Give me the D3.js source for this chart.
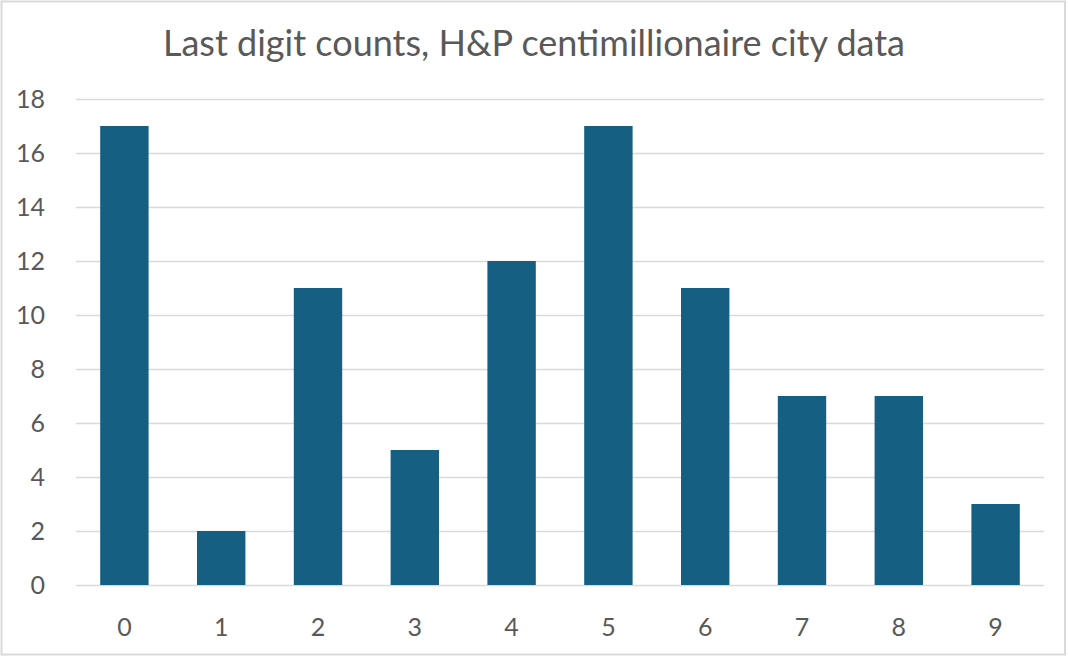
<!DOCTYPE html>
<html>
<meta charset="UTF-8">
<head>
    <script src="https://d3js.org/d3.v7.min.js"></script>
    <style>
        body { margin: 0; background: white; }
        text { font-family: Lato, sans-serif; fill: #595959; }
    </style>
</head>
<body>
<script>
    // last digit and how many cities ended in it
    let digits = ["0", "1", "2", "3", "4", "5", "6", "7", "8", "9"];
    let counts = [17, 2, 11, 5, 12, 17, 11, 7, 7, 3];
    let yTicks = [0, 2, 4, 6, 8, 10, 12, 14, 16, 18];
    let title = "Last digit counts, H&P centimillionaire city data";

    let width = 1068, height = 658;
    let margin = {left: 76, right: 24, top: 99, bottom: 73};

    let svg = d3.select("body").append("svg")
        .attr("width", width)
        .attr("height", height);

    // chart frame
    svg.append("rect")
        .attr("x", 1.5).attr("y", 1.5)
        .attr("width", width - 4.5).attr("height", height - 5)
        .attr("fill", "white")
        .attr("stroke", "#d9d9d9")
        .attr("stroke-width", 2);

    let x = d3.scaleBand()
        .domain(digits)
        .range([margin.left, width - margin.right])
        .paddingInner(0.5)
        .paddingOuter(0.25);

    let y = d3.scaleLinear()
        .domain([0, 18])
        .range([height - margin.bottom, margin.top]);

    // gridlines
    svg.append("g")
        .selectAll("line")
        .data(yTicks)
        .join("line")
        .attr("x1", margin.left)
        .attr("x2", width - margin.right)
        .attr("y1", d => Math.round(y(d)) + 0.5)
        .attr("y2", d => Math.round(y(d)) + 0.5)
        .attr("stroke", "#d9d9d9")
        .attr("stroke-width", 1.5);

    // y labels
    svg.append("g")
        .selectAll("text")
        .data(yTicks)
        .join("text")
        .attr("x", 45)
        .attr("y", d => y(d))
        .attr("dy", "0.36em")
        .attr("text-anchor", "end")
        .attr("font-size", "25px")
        .text(d => d);

    // bars
    svg.append("g")
        .selectAll("rect")
        .data(counts)
        .join("rect")
        .attr("x", (d, i) => x(digits[i]))
        .attr("y", d => y(d))
        .attr("width", x.bandwidth())
        .attr("height", d => y(0) - y(d))
        .attr("fill", "#156082");

    // x labels
    svg.append("g")
        .selectAll("text")
        .data(digits)
        .join("text")
        .attr("x", d => x(d) + x.bandwidth() / 2)
        .attr("y", 627)
        .attr("dy", "0.36em")
        .attr("text-anchor", "middle")
        .attr("font-size", "25px")
        .text(d => d);

    svg.append("text")
        .attr("x", 534)
        .attr("y", 43)
        .attr("dy", "0.36em")
        .attr("text-anchor", "middle")
        .attr("font-size", "36px")
        .text(title);
</script>
</body>
</html>
